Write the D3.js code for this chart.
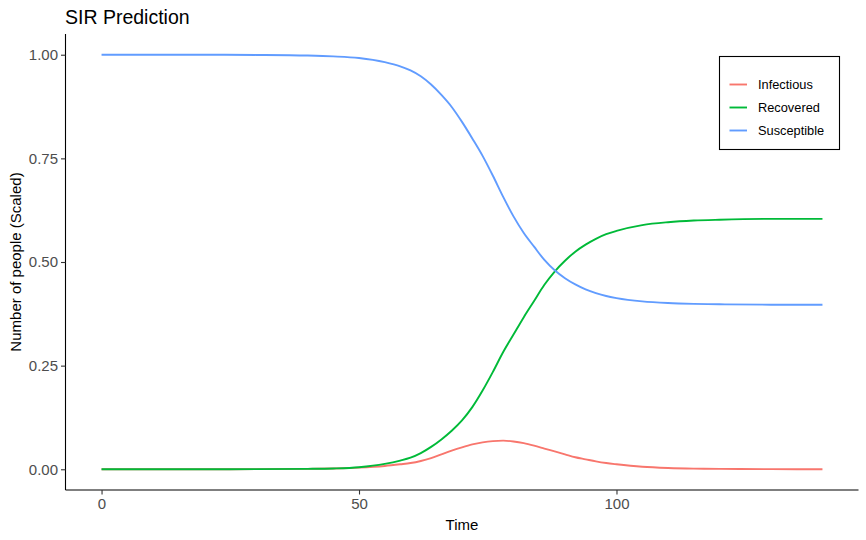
<!DOCTYPE html>
<html>
<head>
<meta charset="utf-8">
<script src="https://cdn.jsdelivr.net/npm/d3@7"></script>
<style>
  html, body { margin: 0; padding: 0; background: #fff; }
  svg { display: block; font-family: "Liberation Sans", Arial, sans-serif; }
</style>
</head>
<body>
<svg id="chart" width="866" height="540"></svg>
<script>
// ---- data ----
const time = [0, 10, 20, 30, 40, 45, 50, 55, 58, 60, 62, 64, 66, 68, 70, 72, 74, 76, 78, 80, 82, 84, 86, 88, 90, 92, 94, 96, 98, 100, 105, 110, 115, 120, 130, 140];
const susceptible = [1.0, 1.0, 1.0, 0.9995, 0.998, 0.996, 0.992, 0.982, 0.972, 0.962, 0.948, 0.928, 0.903, 0.874, 0.838, 0.798, 0.756, 0.708, 0.657, 0.610, 0.570, 0.537, 0.505, 0.480, 0.461, 0.446, 0.434, 0.425, 0.418, 0.413, 0.405, 0.401, 0.399, 0.398, 0.397, 0.397];
const infectious = [0, 0, 0.0001, 0.0003, 0.001, 0.002, 0.004, 0.008, 0.012, 0.015, 0.020, 0.027, 0.036, 0.045, 0.053, 0.060, 0.065, 0.068, 0.069, 0.067, 0.063, 0.057, 0.050, 0.043, 0.036, 0.029, 0.024, 0.019, 0.015, 0.012, 0.006, 0.003, 0.0015, 0.001, 0.0003, 0.0001];
const recovered = [0, 0, 0.0001, 0.0003, 0.001, 0.002, 0.005, 0.013, 0.021, 0.028, 0.039, 0.054, 0.072, 0.093, 0.118, 0.150, 0.190, 0.235, 0.283, 0.325, 0.367, 0.406, 0.445, 0.477, 0.503, 0.525, 0.542, 0.556, 0.567, 0.575, 0.589, 0.596, 0.600, 0.602, 0.604, 0.604];
const seriesNames = ["Infectious", "Recovered", "Susceptible"];
const seriesColors = ["#F8766D", "#00BA38", "#619CFF"];
const xTicks = [0, 50, 100];
const yTicks = [0, 0.25, 0.5, 0.75, 1.0];
const title = "SIR Prediction";
const xTitle = "Time";
const yTitle = "Number of people (Scaled)";

const seriesValues = [infectious, recovered, susceptible];

// ---- layout ----
const svg = d3.select("#chart");
const panel = { left: 65.5, right: 858.5, top: 34, bottom: 490 };
const xMin = d3.min(time), xMax = d3.max(time);
const xPad = (xMax - xMin) * 0.05;
const x = d3.scaleLinear().domain([xMin - xPad, xMax + xPad]).range([panel.left, panel.right]);
const y = d3.scaleLinear().domain([-0.05, 1.05]).range([panel.bottom, panel.top]);

// lines
const line = d3.line().x(d => x(d[0])).y(d => y(d[1])).curve(d3.curveMonotoneX);
seriesValues.forEach((vals, i) => {
  svg.append("path")
    .datum(time.map((t, j) => [t, vals[j]]))
    .attr("fill", "none")
    .attr("stroke", seriesColors[i])
    .attr("stroke-width", 1.9)
    .attr("d", line);
});

// axes
const xAxis = d3.axisBottom(x).tickValues(xTicks).tickFormat(d3.format("d")).tickSizeOuter(0).tickSize(4.5).tickPadding(4);
const gx = svg.append("g").attr("transform", `translate(0,${panel.bottom})`).call(xAxis);
gx.select(".domain").attr("stroke", "#000").attr("stroke-width", 1.1);
gx.selectAll(".tick line").attr("stroke", "#333").attr("stroke-width", 1.1);
gx.selectAll(".tick text").attr("fill", "#4D4D4D").attr("font-size", 15).attr("font-family", "Liberation Sans, Arial, sans-serif").attr("dy", "0.71em");

const yAxis = d3.axisLeft(y).tickValues(yTicks).tickFormat(d3.format(".2f")).tickSizeOuter(0).tickSize(4.5).tickPadding(3);
const gy = svg.append("g").attr("transform", `translate(${panel.left},0)`).call(yAxis);
gy.select(".domain").attr("stroke", "#000").attr("stroke-width", 1.1);
gy.selectAll(".tick line").attr("stroke", "#333").attr("stroke-width", 1.1);
gy.selectAll(".tick text").attr("fill", "#4D4D4D").attr("font-size", 15).attr("font-family", "Liberation Sans, Arial, sans-serif");

// extend domain lines to full panel
gx.select(".domain").attr("d", `M${panel.left},0H${panel.right}`);
gy.select(".domain").attr("d", `M0,${panel.top}V${panel.bottom}`);

// titles
svg.append("text").attr("x", 65).attr("y", 24).attr("font-size", 19.5).attr("fill", "#000").text(title);
svg.append("text").attr("x", (panel.left + panel.right) / 2).attr("y", 530).attr("text-anchor", "middle")
  .attr("font-size", 15).attr("fill", "#000").text(xTitle);
svg.append("text").attr("transform", `translate(21,${(panel.top + panel.bottom) / 2}) rotate(-90)`)
  .attr("text-anchor", "middle").attr("font-size", 15).attr("fill", "#000").text(yTitle);

// legend
const lg = svg.append("g").attr("transform", "translate(719.5,56.5)");
lg.append("rect").attr("width", 120).attr("height", 93).attr("fill", "#fff").attr("stroke", "#000").attr("stroke-width", 1.1);
seriesNames.forEach((name, i) => {
  const cy = 28 + i * 23;
  lg.append("line").attr("x1", 10).attr("x2", 27.5).attr("y1", cy).attr("y2", cy)
    .attr("stroke", seriesColors[i]).attr("stroke-width", 1.9);
  lg.append("text").attr("x", 38.5).attr("y", cy).attr("dy", "0.36em")
    .attr("font-size", 12.8).attr("fill", "#000").text(name);
});
</script>
</body>
</html>
